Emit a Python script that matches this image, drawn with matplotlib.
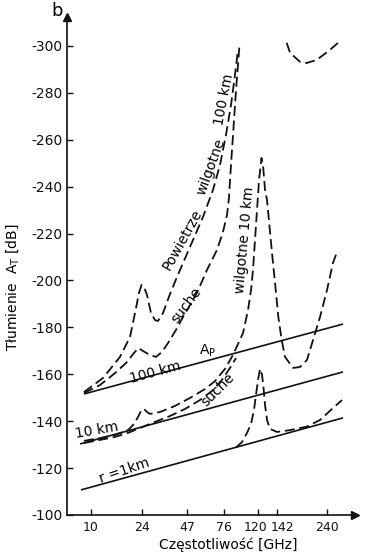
import numpy as np
import matplotlib
matplotlib.use("Agg")
from matplotlib import pyplot as plt
from matplotlib.ticker import NullLocator
from matplotlib.transforms import ScaledTranslation

plt.rcParams["axes.unicode_minus"] = False
plt.rcParams["font.family"] = ["DejaVu Sans"]

# Osie
freq_ticks = [10, 24, 47, 76, 120, 142, 240]
db_ticks = [-100, -120, -140, -160, -180, -200, -220, -240, -260, -280, -300]

# Tłumienie w wolnej przestrzeni A_p (linie ciągłe)
r1_f = [8.48, 282.7]
r1_db = [-110.7, -141.4]
r10_f = [8.34, 282.7]
r10_db = [-130.3, -161.0]
r100_f = [8.92, 282.7]
r100_db = [-151.6, -181.4]

# Powietrze wilgotne, 100 km
wet100_f = [8.92, 12.32, 16.44, 19.48, 21.21, 22.70, 23.68, 24.62, 25.76, 27.35,
            29.05, 30.38, 32.76, 36.39, 40.44, 48.9, 57.97, 66.07, 72.4, 78.3,
            83.7, 88.2, 91.8]
wet100_db = [-152.4, -158.4, -167.4, -175.9, -186.1, -194.7, -198.1, -197.2, -193.8, -186.1,
             -183.1, -182.7, -186.1, -194.2, -201.5, -214.3, -227.1, -238.6, -249.2, -262.0,
             -274.8, -287.6, -298.3]
# dalszy ciąg (łuk w prawym górnym rogu)
wet100b_f = [157.1, 162.7, 180.5, 193.6, 214.9, 246.9, 268.4]
wet100b_db = [-301.3, -297.0, -293.2, -292.7, -294.0, -298.3, -301.3]

# Powietrze suche, 100 km
dry100_f = [8.92, 11.71, 15.11, 18.51, 20.85, 22.51, 24.26, 26.95, 29.49, 32.27,
            35.32, 39.83, 44.26, 48.9, 53.58, 61.08, 69.6, 75.3, 79.4, 81.5,
            82.6, 84.8, 87.1, 89.4, 91.8, 93.6]
dry100_db = [-152.0, -155.4, -160.5, -165.2, -169.1, -171.2, -169.9, -168.2, -167.4, -169.5,
             -173.3, -178.9, -184.4, -189.5, -194.7, -204.5, -213.0, -220.7, -227.9, -235.2,
             -242.8, -255.6, -268.4, -281.2, -291.9, -300.4]

# Powietrze wilgotne, 10 km
wet10_f = [8.92, 11.71, 15.11, 18.83, 20.85, 22.51, 23.68, 24.62, 25.76, 26.95,
           31.31, 39.24, 48.9, 59.51, 67.83, 77.3, 85.9, 98.1, 104.8, 109.0,
           111.9, 114.9, 118.0, 120.8, 123.5, 125.2, 127.5, 129.8, 135.4, 139.5,
           144.0, 149.1, 154.4, 167.8, 180.5, 194.2, 206.8, 222.4, 239.3, 254.7, 265.6]
wet10_db = [-131.6, -132.8, -134.1, -136.2, -138.8, -142.2, -144.8, -145.2, -143.9, -143.1,
            -143.9, -146.5, -149.9, -153.7, -157.1, -162.3, -168.2, -177.6, -187.4, -195.9,
            -204.5, -217.3, -230.1, -242.8, -252.2, -249.2, -238.6, -234.3, -213.0, -198.9,
            -184.4, -174.6, -167.4, -162.7, -163.1, -166.1, -174.6, -184.4, -195.9, -207.5, -212.1]

# Powietrze suche, 10 km
dry10_f = [8.92, 11.71, 15.11, 18.83, 23.08, 29.05, 36.39, 45.6, 55.7, 65.2, 74.3, 82.6, 89.4]
dry10_db = [-130.7, -132.0, -133.3, -135.0, -137.1, -139.7, -142.2, -145.2, -149.0, -152.9,
            -157.6, -162.7, -166.9]

# Powietrze suche, 1 km
dry1_f = [89.4, 96.8, 103.4, 109.0, 113.4, 116.4, 119.6, 121.9, 124.1, 125.8,
          127.5, 129.8, 133.3, 142.0, 162.7, 194.2, 222.4, 254.7, 279.8]
dry1_db = [-128.8, -131.1, -135.0, -138.8, -144.8, -151.2, -157.6, -162.3, -159.7, -154.2,
           -146.9, -140.5, -136.7, -135.4, -136.2, -137.7, -140.5, -145.6, -149.0]

# nieregularna skala częstotliwości, jak na oryginale
scale_f = [1, 10, 24, 47, 76, 120, 142, 240, 2000]
scale_pos = [-45.0, 90.7, 142.3, 187.0, 223.7, 258.3, 277.0, 327.3, 530.5]


def forward(f):
    f = np.maximum(np.asarray(f, dtype=float), 1e-6)
    return np.interp(np.log10(f), np.log10(scale_f), scale_pos)


def inverse(p):
    return 10 ** np.interp(np.asarray(p, dtype=float), scale_pos, np.log10(scale_f))


W, H = 376, 555
fig = plt.figure(figsize=(W / 100, H / 100), dpi=100)
ax = fig.add_axes([67 / W, 40 / H, 288 / W, 498 / H])
ax.set_xscale("function", functions=(forward, inverse))
ax.set_xlim(inverse(67), inverse(355))
ax.set_ylim(-100, -312.3)

k = "#111111"
solid = dict(color=k, lw=1.2, solid_capstyle="butt")
dash = dict(color=k, lw=1.3, ls=(0, (5.5, 2.6)))

for f, d in [(r1_f, r1_db), (r10_f, r10_db), (r100_f, r100_db)]:
    ax.plot(f, d, **solid)

for f, d in [(wet100_f, wet100_db), (wet100b_f, wet100b_db), (dry100_f, dry100_db),
             (wet10_f, wet10_db), (dry10_f, dry10_db), (dry1_f, dry1_db)]:
    ax.plot(f, d, clip_on=False, **dash)

# opisy krzywych
fs = 10
ax.text(43.6, -217.3, "Powietrze", rotation=61, fontsize=fs, ha="center", va="center")
ax.text(64.4, -248.4, "wilgotne", rotation=70, fontsize=fs, ha="center", va="center")
ax.text(76.3, -277.0, "100 km", rotation=79, fontsize=fs, ha="center", va="center")
ax.text(46.3, -189.5, "suche", rotation=53, fontsize=fs, ha="center", va="center")
ax.text(100.7, -217.3, "wilgotne 10 km", rotation=85, fontsize=fs, ha="center", va="center")
ax.text(61.9, -169.9, r"A$_\mathrm{P}$", fontsize=fs, ha="center", va="center")
ax.text(29.05, -161.0, "100 km", rotation=15, fontsize=fs, ha="center", va="center")
ax.text(70.5, -153.3, "suche", rotation=45, fontsize=fs, ha="center", va="center")
ax.text(11.13, -136.2, "10 km", rotation=10, fontsize=fs, ha="center", va="center")
ax.text(17.6, -118.8, "r =1km", rotation=19, fontsize=fs, ha="center", va="center")

# osie ze strzałkami
for s in ["top", "right"]:
    ax.spines[s].set_visible(False)
for s in ["left", "bottom"]:
    ax.spines[s].set_linewidth(1.2)
    ax.spines[s].set_color(k)
ax.plot(0, 1, marker="^", color=k, ms=6, transform=ax.transAxes, clip_on=False)
ax.plot(1, 0, marker=">", color=k, ms=6, transform=ax.transAxes, clip_on=False)

ax.set_xticks(freq_ticks)
ax.set_xticklabels([str(t) for t in freq_ticks])
ax.xaxis.set_minor_locator(NullLocator())
ax.set_yticks(db_ticks)
ax.set_yticklabels([str(t) for t in db_ticks])
ax.tick_params(axis="both", direction="in", length=4, width=1, colors=k, labelsize=10)
ax.tick_params(axis="x", pad=4, labelsize=9)
ax.tick_params(axis="y", pad=3)
# rozsunięcie etykiet 120 i 142
labels = ax.get_xticklabels()
labels[4].set_transform(labels[4].get_transform() + ScaledTranslation(-2 / 72, 0, fig.dpi_scale_trans))
labels[5].set_transform(labels[5].get_transform() + ScaledTranslation(4 / 72, 0, fig.dpi_scale_trans))

fig.text(13 / W, 1 - 287 / H, r"Tłumienie  A$_\mathrm{T}$ [dB]", rotation=90,
         fontsize=10, ha="center", va="center")
fig.text(228 / W, 1 - 545 / H, "Częstotliwość [GHz]", fontsize=10, ha="center", va="center")
fig.text(57 / W, 1 - 11 / H, "b", fontsize=13, ha="center", va="center")

fig.savefig("out.png", dpi=100, facecolor="white")
